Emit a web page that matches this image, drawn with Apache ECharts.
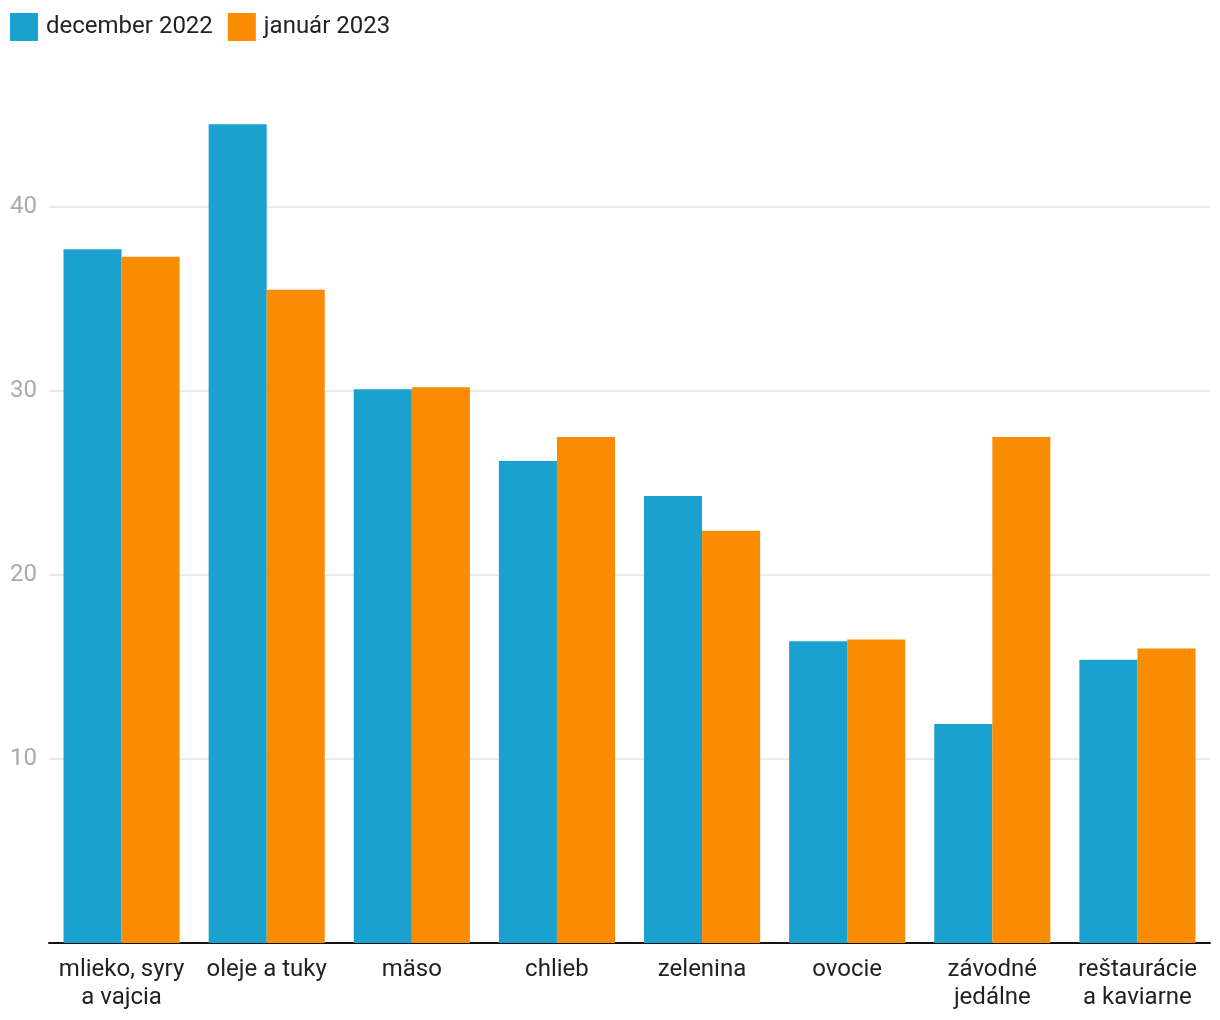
<!DOCTYPE html>
<html>
<head>
<meta charset="utf-8">
<script src="https://cdn.jsdelivr.net/npm/echarts@6/dist/echarts.min.js"></script>
<style>
html,body{margin:0;padding:0;background:#fff;}
#chart{width:1220px;height:1020px;}
</style>
</head>
<body>
<div id="chart"></div>
<script>
const categories = ['mlieko, syry\na vajcia', 'oleje a tuky', 'mäso', 'chlieb', 'zelenina', 'ovocie', 'závodné\njedálne', 'reštaurácie\na kaviarne'];
const seriesNames = ['december 2022', 'január 2023'];
const december2022 = [37.7, 44.5, 30.1, 26.2, 24.3, 16.4, 11.9, 15.4];
const januar2023 = [37.3, 35.5, 30.2, 27.5, 22.4, 16.5, 27.5, 16.0];
const yTicks = [0, 10, 20, 30, 40, 50];

const chart = echarts.init(document.getElementById('chart'));
chart.setOption({
  animation: false,
  textStyle: { fontFamily: 'Roboto' },
  legend: {
    left: 5, top: 8,
    itemWidth: 28, itemHeight: 28, itemGap: 15,
    icon: 'rect',
    textStyle: { fontSize: 24, color: '#222', fontFamily: 'Roboto', padding: [4,0,0,3] },
    data: seriesNames
  },
  grid: { left: 49, right: 10, top: 23, bottom: 77, containLabel: false },
  xAxis: {
    type: 'category',
    data: categories,
    axisLine: { lineStyle: { color: '#111', width: 2 } },
    axisTick: { show: false },
    axisLabel: { fontSize: 24, color: '#222', lineHeight: 28, margin: 13, fontFamily: 'Roboto', interval: 0 }
  },
  yAxis: {
    type: 'value',
    min: yTicks[0], max: yTicks[yTicks.length - 1], interval: 10,
    axisLine: { show: false },
    axisTick: { show: false },
    axisLabel: {
      fontSize: 24, color: '#aaa', margin: 12, fontFamily: 'Roboto',
      formatter: v => (v === 0 || v === 50) ? '' : String(v)
    },
    splitLine: { lineStyle: { color: ['#e3e3e3','#e3e3e3','#e3e3e3','#e3e3e3','#e3e3e3','rgba(0,0,0,0)'], width: 1.5 } }
  },
  series: [
    { name: seriesNames[0], type: 'bar', data: december2022, itemStyle: { color: '#1ba1cd' }, barGap: '0%', barCategoryGap: '20%' },
    { name: seriesNames[1], type: 'bar', data: januar2023, itemStyle: { color: '#f98c00' }, barGap: '0%', barCategoryGap: '20%' }
  ]
});
</script>
</body>
</html>
